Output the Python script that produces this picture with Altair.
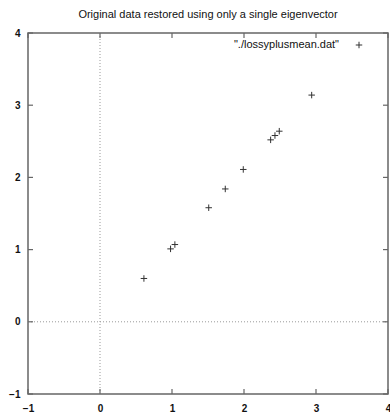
import altair as alt
import pandas as pd

# data
xs = [0.61, 0.98, 1.04, 1.51, 1.74, 1.99, 2.37, 2.43, 2.49, 2.94]
ys = [0.60, 1.01, 1.07, 1.58, 1.84, 2.11, 2.52, 2.58, 2.64, 3.14]
ticks = [-1, 0, 1, 2, 3, 4]
series_name = ['"./lossyplusmean.dat"']
title_text = "Original data restored using only a single eigenvector"

W, H = 360, 361
FONT = "Liberation Sans"
PLUS = "M-1,0H1M0,-1V1"

df = pd.DataFrame({"x": xs, "y": ys})
df_t = pd.DataFrame({"t": ticks})
df_leg = pd.DataFrame({"name": series_name})
df_zero = pd.DataFrame({"z": [0]})

xscale = alt.Scale(domain=[-1, 4], nice=False, zero=False)
yscale = alt.Scale(domain=[-1, 4], nice=False, zero=False)

axis_common = dict(
    values=ticks, ticks=False, domain=False, grid=False, title=None,
    labelFont=FONT, labelFontSize=10, labelFontWeight="bold", labelColor="#111",
    labelFlush=False,
)
xaxis = alt.Axis(labelPadding=9, **axis_common)
yaxis = alt.Axis(labelPadding=8, **axis_common)


def X(f):
    return alt.X(f, scale=xscale, axis=xaxis)


def Y(f):
    return alt.Y(f, scale=yscale, axis=yaxis)


points = alt.Chart(df).mark_point(
    shape=PLUS, size=42, filled=False, stroke="#333", strokeWidth=1, opacity=1
).encode(x=X("x:Q"), y=Y("y:Q"))

dash = dict(strokeDash=[1, 2], stroke="#999", strokeWidth=1)
zero_v = alt.Chart(df_zero).mark_rule(**dash).encode(
    x=X("z:Q"), y=alt.value(0), y2=alt.value(H)
)
zero_h = alt.Chart(df_zero).mark_rule(**dash).encode(
    y=Y("z:Q"), x=alt.value(0), x2=alt.value(W)
)

tk = dict(stroke="#666", strokeWidth=1.2)
TL = 5
tick_b = alt.Chart(df_t).mark_rule(**tk).encode(
    x=X("t:Q"), y=alt.value(H), y2=alt.value(H - TL))
tick_t = alt.Chart(df_t).mark_rule(**tk).encode(
    x=X("t:Q"), y=alt.value(0), y2=alt.value(TL))
tick_l = alt.Chart(df_t).mark_rule(**tk).encode(
    y=Y("t:Q"), x=alt.value(0), x2=alt.value(TL))
tick_r = alt.Chart(df_t).mark_rule(**tk).encode(
    y=Y("t:Q"), x=alt.value(W), x2=alt.value(W - TL))

leg_text = alt.Chart(df_leg).mark_text(
    align="right", baseline="middle", font=FONT, fontSize=11, color="#111"
).encode(text="name:N", x=alt.value(311), y=alt.value(12))
leg_mark = alt.Chart(df_leg).mark_point(
    shape=PLUS, size=42, filled=False, stroke="#333", strokeWidth=1, opacity=1
).encode(x=alt.value(331), y=alt.value(12))

chart = alt.layer(
    points, zero_v, zero_h, tick_b, tick_t, tick_l, tick_r, leg_text, leg_mark
).properties(
    width=W, height=H,
    background="white",
    title=alt.TitleParams(title_text, font=FONT, fontSize=11, fontWeight="normal",
                          color="#111", anchor="middle", offset=8),
    autosize=alt.AutoSizeParams(type="none"),
    padding={"left": 28, "top": 33, "right": 2, "bottom": 20},
).configure_view(
    stroke="#666", strokeWidth=1.5
)

chart.save("out.html", embed_options={"renderer": "svg", "actions": False})
